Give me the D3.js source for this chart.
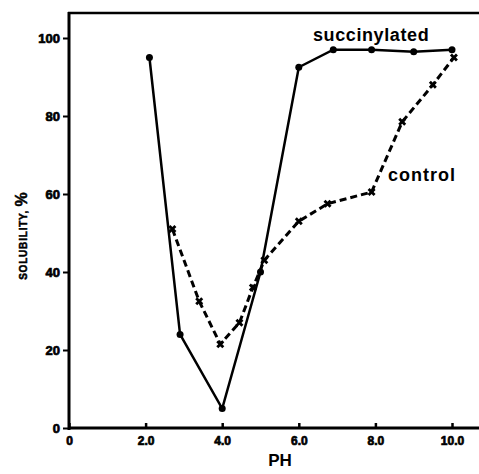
<!DOCTYPE html>
<html>
<head>
<meta charset="utf-8">
<script src="https://cdn.jsdelivr.net/npm/d3@7"></script>
<style>
  body { margin: 0; background: #fff; }
  svg { display: block; font-family: "Liberation Sans", Arial, sans-serif; }
</style>
</head>
<body>
<svg id="chart" width="479" height="474"></svg>
<script>
// data
const succPH = [2.1, 2.9, 4.0, 5.0, 6.0, 6.9, 7.9, 9.0, 10.0];
const succSol = [95, 24, 5, 40, 92.5, 97, 97, 96.5, 97];
const ctrlPH = [2.7, 3.4, 3.95, 4.45, 4.8, 5.1, 6.0, 6.75, 7.9, 8.7, 9.5, 10.05];
const ctrlSol = [51, 32.5, 21.5, 27, 36, 43, 53, 57.5, 60.5, 78.5, 88, 95];
const xTicks = [0, 2, 4, 6, 8, 10];
const xTickLabels = ["0", "2.0", "4.0", "6.0", "8.0", "10.0"];
const yTicks = [0, 20, 40, 60, 80, 100];

const svg = d3.select("#chart");

const x = d3.scaleLinear().domain([0, 10]).range([69, 452]);
const y = d3.scaleLinear().domain([0, 100]).range([428, 38]);

// frame: left axis, bottom axis, top line
const frameTop = 13;
svg.append("line").attr("x1", 69).attr("x2", 69).attr("y1", frameTop - 1).attr("y2", 430)
  .attr("stroke", "#000").attr("stroke-width", 3);
svg.append("line").attr("x1", 68).attr("x2", 479).attr("y1", 428).attr("y2", 428)
  .attr("stroke", "#000").attr("stroke-width", 3);
svg.append("line").attr("x1", 68).attr("x2", 479).attr("y1", frameTop).attr("y2", frameTop)
  .attr("stroke", "#000").attr("stroke-width", 2.5);

// y axis ticks + labels
const yAxis = d3.axisLeft(y).tickValues(yTicks).tickSize(6).tickPadding(3);
const gy = svg.append("g").attr("transform", "translate(69,0)").call(yAxis);
gy.select(".domain").remove();
gy.selectAll("line").attr("stroke-width", 2);
gy.selectAll("text").attr("font-size", 13).attr("font-weight", "bold").attr("fill", "#000")
  .attr("stroke", "#000").attr("stroke-width", 0.7);

// x axis ticks (small inward bumps) + labels
const xAxis = d3.axisBottom(x).tickValues(xTicks).tickSize(-5).tickPadding(8)
  .tickFormat((d, i) => xTickLabels[i]);
const gx = svg.append("g").attr("transform", "translate(0,428)").call(xAxis);
gx.select(".domain").remove();
gx.selectAll("line").attr("stroke-width", 2.5);
gx.selectAll("text").attr("font-size", 12).attr("font-weight", "bold").attr("fill", "#000")
  .attr("stroke", "#000").attr("stroke-width", 0.7);

// succinylated: solid line with dots
const succ = succPH.map((p, i) => [p, succSol[i]]);
const ctrl = ctrlPH.map((p, i) => [p, ctrlSol[i]]);
const line = d3.line().x(d => x(d[0])).y(d => y(d[1]));

svg.append("path").datum(succ).attr("d", line)
  .attr("fill", "none").attr("stroke", "#000").attr("stroke-width", 2.5);
svg.selectAll(".dot").data(succ).enter().append("circle")
  .attr("cx", d => x(d[0])).attr("cy", d => y(d[1])).attr("r", 3.5).attr("fill", "#000");

// control: dashed line with x marks
svg.append("path").datum(ctrl).attr("d", line)
  .attr("fill", "none").attr("stroke", "#000").attr("stroke-width", 3)
  .attr("stroke-dasharray", "7,4");
const cross = d3.symbol().type(d3.symbolCross).size(40);
svg.selectAll(".xm").data(ctrl).enter().append("path")
  .attr("d", cross)
  .attr("transform", d => `translate(${x(d[0])},${y(d[1])}) rotate(45)`)
  .attr("fill", "#000");

// series labels
svg.append("text").attr("x", 313).attr("y", 41).text("succinylated")
  .attr("font-size", 18).attr("font-weight", "bold").attr("letter-spacing", 0.6);
svg.append("text").attr("x", 388).attr("y", 181).text("control")
  .attr("font-size", 18).attr("font-weight", "bold").attr("letter-spacing", 1);

// axis titles
svg.append("text").attr("x", 280).attr("y", 466).attr("text-anchor", "middle")
  .text("PH").attr("font-size", 17).attr("font-weight", "bold");
const yt = svg.append("text").attr("transform", "translate(27,236) rotate(-90)")
  .attr("text-anchor", "middle").attr("font-weight", "bold")
  .attr("stroke", "#000").attr("stroke-width", 0.5);
yt.append("tspan").attr("font-size", 10).attr("letter-spacing", 0.8).text("SOLUBILITY, ");
yt.append("tspan").attr("font-size", 16).text("%");
</script>
</body>
</html>
